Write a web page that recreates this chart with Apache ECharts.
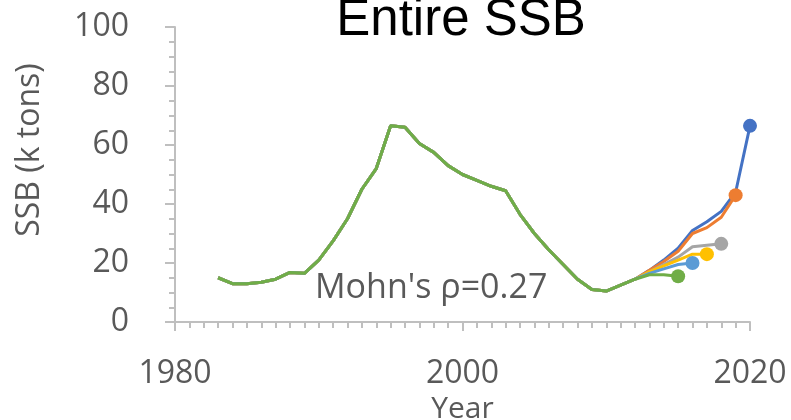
<!DOCTYPE html>
<html>
<head>
<meta charset="utf-8">
<script src="https://cdn.jsdelivr.net/npm/echarts@6/dist/echarts.min.js"></script>
<style>
  html, body { margin: 0; padding: 0; background: #fff; }
  #chart { width: 791px; height: 420px; }
</style>
</head>
<body>
<div id="chart"></div>
<script>
//----------------------Data----------------------
let first_year = 1983;
// SSB shared by every peel, 1983-2012
let ssb_common = [15, 13, 13, 13.5, 14.5, 16.8, 16.5, 21, 27.5, 35,
                  45, 52, 66.5, 66, 60.5, 57.5, 53, 50, 48, 46,
                  44.5, 36.5, 30, 24.5, 19.5, 14.5, 11, 10.5, 12.5, 14.5];
// tails of each retrospective peel, 2013 onward
let tail_2020 = [17.5, 21, 25, 31, 34, 37.5, 44, 66.5];
let tail_2019 = [17.5, 20.5, 24, 30, 32, 35.5, 43];
let tail_2018 = [17, 19.5, 22, 25.5, 26, 26.5];
let tail_2017 = [17, 19, 21, 23, 23];
let tail_2016 = [16.5, 18, 19.5, 20];
let tail_2015 = [16, 16, 15.5];
let peel_names = ["2020", "2019", "2018", "2017", "2016", "2015"];
let peel_tails = [tail_2020, tail_2019, tail_2018, tail_2017, tail_2016, tail_2015];
let peel_colors = ["#4472C4", "#ED7D31", "#A5A5A5", "#FFC000", "#5B9BD5", "#70AD47"];
let x_ticks = [1980, 2000, 2020];
let y_ticks = [0, 20, 40, 60, 80, 100];
let note_text = "Mohn's \u03c1=0.27";

//----------------------Chart----------------------
let ssb_chart = echarts.init(document.getElementById("chart"));
let label_font = "'Open Sans', 'Noto Sans', sans-serif";
let grey_text = "#595959";
let axis_grey = "#BFBFBF";

let ssb_series = [];
for (let i = 0; i < peel_tails.length; i++) {
    let vals = ssb_common.concat(peel_tails[i]);
    let pts = vals.map(function (v, k) {
        let item = {value: [first_year + k, v], symbol: 'none'};
        if (k === vals.length - 1) {
            item.symbol = 'circle';
            item.symbolSize = 14;
        }
        return item;
    });
    ssb_series.push({
        name: peel_names[i],
        type: 'line',
        data: pts,
        showSymbol: true,
        lineStyle: {color: peel_colors[i], width: 3},
        itemStyle: {color: peel_colors[i]},
        z: 2 + i,
        animation: false
    });
}

let ssb_option = {
    backgroundColor: '#ffffff',
    title: {
        text: 'Entire SSB',
        left: 456,
        textAlign: 'center',
        top: -10,
        textStyle: {fontFamily: "'Liberation Sans', Arial, sans-serif", fontSize: 51, fontWeight: 'normal', color: '#000'}
    },
    grid: {left: 175, right: 41, top: 27, bottom: 98, containLabel: false, outerBoundsMode: 'none'},
    xAxis: {
        type: 'value',
        min: x_ticks[0],
        max: x_ticks[x_ticks.length - 1],
        interval: 20,
        name: 'Year',
        nameLocation: 'middle',
        nameGap: 72,
        nameTextStyle: {fontFamily: label_font, fontSize: 30, color: grey_text},
        axisLine: {lineStyle: {color: axis_grey, width: 2}},
        axisTick: {show: true, length: 9, lineStyle: {color: axis_grey, width: 2}},
        minorTick: {show: true, splitNumber: 20, length: 6, lineStyle: {color: axis_grey, width: 2}},
        axisLabel: {fontFamily: label_font, fontSize: 32, color: grey_text, margin: 36,
                    formatter: function (v) { return String(v); }},
        splitLine: {show: false}
    },
    yAxis: {
        type: 'value',
        min: y_ticks[0],
        max: y_ticks[y_ticks.length - 1],
        interval: 20,
        axisLine: {show: true, lineStyle: {color: axis_grey, width: 2}},
        axisTick: {show: true, length: 10, lineStyle: {color: axis_grey, width: 2}},
        minorTick: {show: true, splitNumber: 4, length: 6, lineStyle: {color: axis_grey, width: 2}},
        axisLabel: {fontFamily: label_font, fontSize: 32, color: grey_text, margin: 46},
        splitLine: {show: false}
    },
    graphic: [{
        type: 'text',
        x: 30,
        y: 150,
        rotation: Math.PI / 2,
        style: {text: 'SSB (k tons)', font: "32px " + label_font, fill: grey_text,
                align: 'center', verticalAlign: 'middle'}
    }, {
        type: 'text',
        x: 315,
        y: 288,
        style: {text: note_text, font: "34px " + label_font, fill: grey_text,
                align: 'left', verticalAlign: 'middle'}
    }],
    series: ssb_series
};
ssb_chart.setOption(ssb_option, true);
</script>
</body>
</html>
